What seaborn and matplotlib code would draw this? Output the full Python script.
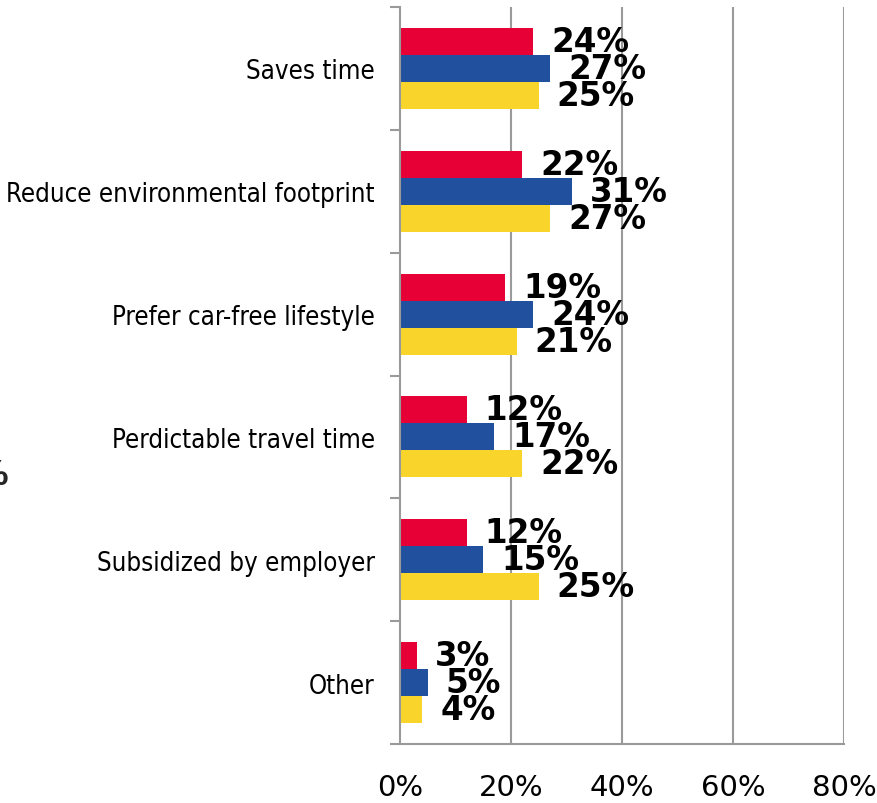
import matplotlib
matplotlib.use("Agg")
import matplotlib.pyplot as plt
import seaborn as sns
import pandas as pd
from matplotlib.ticker import FixedLocator, FuncFormatter

# Reasons for choosing transit, three survey groups
categories = [
    "Saves time",
    "Reduce environmental footprint",
    "Prefer car-free lifestyle",
    "Perdictable travel time",
    "Subsidized by employer",
    "Other",
]
groups = ["Group A", "Group B", "Group C"]
group_a = [24, 22, 19, 12, 12, 3]
group_b = [27, 31, 24, 17, 15, 5]
group_c = [25, 27, 21, 22, 25, 4]
x_ticks = [0, 20, 40, 60, 80]

colors = ["#E60035", "#21509E", "#F9D52B"]

rows = []
for g, vals in zip(groups, [group_a, group_b, group_c]):
    for c, v in zip(categories, vals):
        rows.append({"reason": c, "group": g, "pct": v})
df = pd.DataFrame(rows)

sns.set_theme(style="white")
plt.rcParams["font.family"] = ["DejaVu Sans"]

fig = plt.figure(figsize=(8.78, 8.04), dpi=100)
ax = fig.add_axes([400 / 878, 1 - 745 / 804, 444 / 878, 737 / 804])

sns.barplot(
    data=df, y="reason", x="pct", hue="group", order=categories,
    hue_order=groups, palette=colors, orient="h", width=0.66,
    saturation=1, edgecolor="none", linewidth=0, ax=ax, legend=False,
)

ax.set_xlim(0, 80)
ax.set_ylim(len(categories) - 0.5, -0.5)
ax.set_xlabel("")
ax.set_ylabel("")

grid_c = "#9A9A9A"
ax.set_axisbelow(True)
for t in x_ticks[1:]:
    ax.axvline(t, color=grid_c, lw=1.5, zorder=0)

for side in ["top", "right"]:
    ax.spines[side].set_visible(False)
for side in ["left", "bottom"]:
    ax.spines[side].set_color(grid_c)
    ax.spines[side].set_linewidth(1.5)

ax.xaxis.set_major_locator(FixedLocator(x_ticks))
ax.xaxis.set_major_formatter(FuncFormatter(lambda v, p: f"{v:.0f}%"))
ax.tick_params(axis="x", which="major", length=7, width=1.5, color=grid_c,
               direction="out", labelsize=21, pad=14, labelcolor="black")

ax.set_yticks(range(len(categories)))
ax.set_yticklabels(categories)
ax.yaxis.set_minor_locator(FixedLocator([i - 0.5 for i in range(len(categories) + 1)]))
ax.tick_params(axis="y", which="major", length=0, pad=18, labelsize=18.5,
               labelcolor="black")
ax.tick_params(axis="y", which="minor", length=7, width=1.5, color=grid_c,
               direction="out", left=True)
for lab in ax.get_yticklabels():
    lab.set_fontstretch("condensed")

for cont in ax.containers:
    ax.bar_label(cont, labels=[f"{v:.0f}%" for v in cont.datavalues],
                 padding=13, fontsize=23.5, fontweight="bold", color="black")

fig.text(9 / 878, 1 - 476 / 804, "%", fontsize=23.5, fontweight="bold",
         va="center", ha="right")

fig.savefig("out.png", dpi=100)
